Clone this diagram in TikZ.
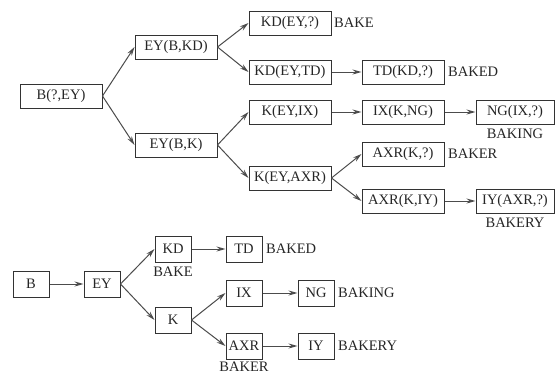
\documentclass[tikz,border=0pt]{standalone}
\usepackage{fontspec}
\setmainfont{Liberation Serif}
\usetikzlibrary{arrows.meta}
\begin{document}
\begin{tikzpicture}[x=1pt,y=-1pt,
  bigbox/.style={draw=black!80,line width=1pt,minimum width=82pt,minimum height=24pt,inner sep=0pt,font=\fontsize{14.5}{15}\selectfont,text=black!85},
  smallbox/.style={draw=black!80,line width=1pt,minimum width=36pt,minimum height=26pt,inner sep=0pt,font=\fontsize{14.5}{15}\selectfont,text=black!85},
  lab/.style={inner sep=0pt,font=\fontsize{14.5}{15}\selectfont,text=black!85},
  conn/.style={draw=black!70,line width=1pt,-{Stealth[length=9pt,width=5pt,inset=3pt]}}]
\useasboundingbox[fill=white] (0,0) rectangle (556,375);
% top tree
\node[bigbox] (b) at (61,96) {B(?,EY)};
\node[bigbox] (eybkd) at (176,47) {EY(B,KD)};
\node[bigbox] (eybk) at (176,145) {EY(B,K)};
\node[bigbox] (kdeyq) at (290,23) {KD(EY,?)};
\node[bigbox] (kdeytd) at (290,72) {KD(EY,TD)};
\node[bigbox] (tdkdq) at (403,72) {TD(KD,?)};
\node[bigbox] (keyix) at (290,112) {K(EY,IX)};
\node[bigbox] (ixkng) at (403,112) {IX(K,NG)};
\node[bigbox,minimum width=78pt] (ngixq) at (515,112) {NG(IX,?)};
\node[bigbox] (keyaxr) at (290,178) {K(EY,AXR)};
\node[bigbox] (axrkq) at (403,154) {AXR(K,?)};
\node[bigbox] (axrkiy) at (403,201) {AXR(K,IY)};
\node[bigbox,minimum width=78pt] (iyaxrq) at (515,201) {IY(AXR,?)};
\node[lab,anchor=west] (l1) at (334,23) {BAKE};
\node[lab,anchor=west] (l2) at (448,72) {BAKED};
\node[lab] (l3) at (515,134) {BAKING};
\node[lab,anchor=west] (l4) at (448,154) {BAKER};
\node[lab] (l5) at (515,223) {BAKERY};
\draw[conn] (b.east) -- (eybkd.west);
\draw[conn] (b.east) -- (eybk.west);
\draw[conn] (eybkd.east) -- (kdeyq.west);
\draw[conn] (eybkd.east) -- (kdeytd.west);
\draw[conn] (kdeytd.east) -- (tdkdq.west);
\draw[conn] (eybk.east) -- (keyix.west);
\draw[conn] (eybk.east) -- (keyaxr.west);
\draw[conn] (keyix.east) -- (ixkng.west);
\draw[conn] (ixkng.east) -- (ngixq.west);
\draw[conn] (keyaxr.east) -- (axrkq.west);
\draw[conn] (keyaxr.east) -- (axrkiy.west);
\draw[conn] (axrkiy.east) -- (iyaxrq.west);
% bottom tree
\node[smallbox] (sb) at (31,284) {B};
\node[smallbox] (sey) at (102,284) {EY};
\node[smallbox] (skd) at (173,249) {KD};
\node[smallbox] (std) at (244,249) {TD};
\node[smallbox] (sk) at (173,320) {K};
\node[smallbox] (six) at (244,293) {IX};
\node[smallbox] (sng) at (316,293) {NG};
\node[smallbox] (saxr) at (244,346) {AXR};
\node[smallbox] (siy) at (316,346) {IY};
\node[lab] (m1) at (173,272) {BAKE};
\node[lab,anchor=west] (m2) at (266,249) {BAKED};
\node[lab,anchor=west] (m3) at (338,293) {BAKING};
\node[lab] (m4) at (244,367) {BAKER};
\node[lab,anchor=west] (m5) at (338,346) {BAKERY};
\draw[conn] (sb.east) -- (sey.west);
\draw[conn] (sey.east) -- (skd.west);
\draw[conn] (sey.east) -- (sk.west);
\draw[conn] (skd.east) -- (std.west);
\draw[conn] (sk.east) -- (six.west);
\draw[conn] (sk.east) -- (saxr.west);
\draw[conn] (six.east) -- (sng.west);
\draw[conn] (saxr.east) -- (siy.west);
\end{tikzpicture}
\end{document}
